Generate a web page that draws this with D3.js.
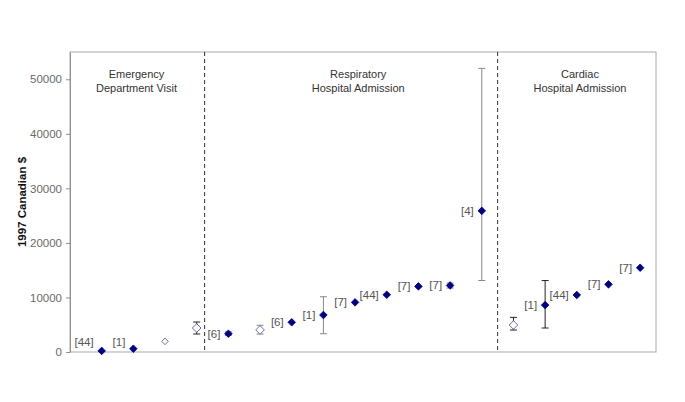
<!DOCTYPE html>
<html>
<head>
<meta charset="utf-8">
<script src="https://cdn.jsdelivr.net/npm/d3@7"></script>
<style>
body { margin: 0; background: #fff; }
svg { font-family: Arial, "Liberation Sans", sans-serif; }
</style>
</head>
<body>
<svg width="685" height="402"></svg>
<script>
// one entry per study, left to right
var values  = [200, 600, 1950, 4400, 3350, 4050, 5450, 6780, 9100, 10500, 12030, 12200, 25880, 4950, 8600, 10450, 12400, 15450];
var lows    = [null, null, null, 3300, 3050, 3300, null, 3350, null, null, null, 11730, 13100, 4030, 4400, null, null, null];
var highs   = [null, null, null, 5500, 3700, 4900, null, 10130, null, null, null, 12650, 52000, 6350, 13100, null, null, null];
var refs    = ["[44]", "[1]", "", "", "[6]", "", "[6]", "[1]", "[7]", "[44]", "[7]", "[7]", "[4]", "", "[1]", "[44]", "[7]", "[7]"];
var kinds   = ["f", "f", "s", "o", "f", "o", "f", "f", "f", "f", "f", "f", "f", "o", "f", "f", "f", "f"]; // filled, small open, open
var section = [0, 0, 0, 0, 1, 1, 1, 1, 1, 1, 1, 1, 1, 2, 2, 2, 2, 2];

var sectionTitles = [["Emergency", "Department Visit"], ["Respiratory", "Hospital Admission"], ["Cardiac", "Hospital Admission"]];
var titleAt = [2.1, 9.1, 16.1];
var dividers = [4.25, 13.5];
var yTicks = [0, 10000, 20000, 30000, 40000, 50000];

var svg = d3.select("svg");
var margin = {top: 52, right: 29, bottom: 50, left: 70};
var W = 685, H = 402;

var x = d3.scaleLinear().domain([0, 18.5]).range([margin.left, W - margin.right]);
var y = d3.scaleLinear().domain([0, 55000]).range([H - margin.bottom, margin.top]);

// frame
svg.append("rect")
  .attr("x", margin.left).attr("y", margin.top)
  .attr("width", W - margin.left - margin.right)
  .attr("height", H - margin.top - margin.bottom)
  .attr("fill", "none").attr("stroke", "#a8a8a8");

var yAxis = svg.append("g")
  .attr("transform", "translate(" + margin.left + ",0)")
  .call(d3.axisLeft(y).tickValues(yTicks).tickSizeInner(4).tickSizeOuter(0).tickPadding(4).tickFormat(d3.format("d")));
yAxis.select(".domain").attr("stroke", "#909090");
yAxis.selectAll(".tick line").attr("stroke", "#909090");
yAxis.selectAll("text").attr("fill", "#6a6a6a").style("font-size", "11.5px");

svg.append("text")
  .attr("transform", "translate(26," + y(27500) + ") rotate(-90)")
  .attr("text-anchor", "middle")
  .style("font-size", "11.5px").style("font-weight", "bold")
  .attr("fill", "#111")
  .text("1997 Canadian $");

// section dividers
svg.selectAll(".divider").data(dividers).enter().append("line")
  .attr("x1", function(d) { return x(d); }).attr("x2", function(d) { return x(d); })
  .attr("y1", margin.top).attr("y2", H - margin.bottom)
  .attr("stroke", "#333").attr("stroke-dasharray", "4,3");

// section titles
sectionTitles.forEach(function(lines, i) {
  var t = svg.append("text")
    .attr("x", x(titleAt[i])).attr("y", 78)
    .attr("text-anchor", "middle")
    .style("font-size", "11px").attr("fill", "#333");
  lines.forEach(function(s, j) {
    t.append("tspan").attr("x", x(titleAt[i])).attr("dy", j ? 14 : 0).text(s);
  });
});

var idx = d3.range(values.length);
var errColor = ["#222", "#888", "#222"];

// error bars
var eb = svg.append("g").selectAll("g")
  .data(idx.filter(function(i) { return lows[i] != null; }))
  .enter().append("g")
  .attr("stroke", function(i) { return errColor[section[i]]; });
eb.append("line")
  .attr("x1", function(i) { return x(i + 1); }).attr("x2", function(i) { return x(i + 1); })
  .attr("y1", function(i) { return y(highs[i]); }).attr("y2", function(i) { return y(lows[i]); });
eb.append("line")
  .attr("x1", function(i) { return x(i + 1) - 3.5; }).attr("x2", function(i) { return x(i + 1) + 3.5; })
  .attr("y1", function(i) { return y(highs[i]); }).attr("y2", function(i) { return y(highs[i]); });
eb.append("line")
  .attr("x1", function(i) { return x(i + 1) - 3.5; }).attr("x2", function(i) { return x(i + 1) + 3.5; })
  .attr("y1", function(i) { return y(lows[i]); }).attr("y2", function(i) { return y(lows[i]); });

// markers
function diamond(r) { return "M0," + (-r) + "L" + r + ",0L0," + r + "L" + (-r) + ",0Z"; }
svg.append("g").selectAll("path").data(idx).enter().append("path")
  .attr("transform", function(i) { return "translate(" + x(i + 1) + "," + y(values[i]) + ")"; })
  .attr("d", function(i) { return kinds[i] == "f" ? diamond(3.8) : kinds[i] == "s" ? diamond(3.3) : diamond(4.3); })
  .attr("fill", function(i) { return kinds[i] == "f" ? "#000080" : "#fff"; })
  .attr("stroke", function(i) { return kinds[i] == "f" ? "#000080" : "#6c6c9c"; })
  .attr("stroke-width", function(i) { return kinds[i] == "f" ? 0.8 : 1; });

// reference labels
svg.append("g").selectAll("text").data(idx.filter(function(i) { return refs[i]; })).enter().append("text")
  .attr("x", function(i) { return x(i + 1) - 8; })
  .attr("y", function(i) { return Math.min(y(values[i]), y(0) - 10); })
  .attr("dy", "0.35em")
  .attr("text-anchor", "end")
  .style("font-size", "11.5px").attr("fill", "#555")
  .text(function(i) { return refs[i]; });
</script>
</body>
</html>
